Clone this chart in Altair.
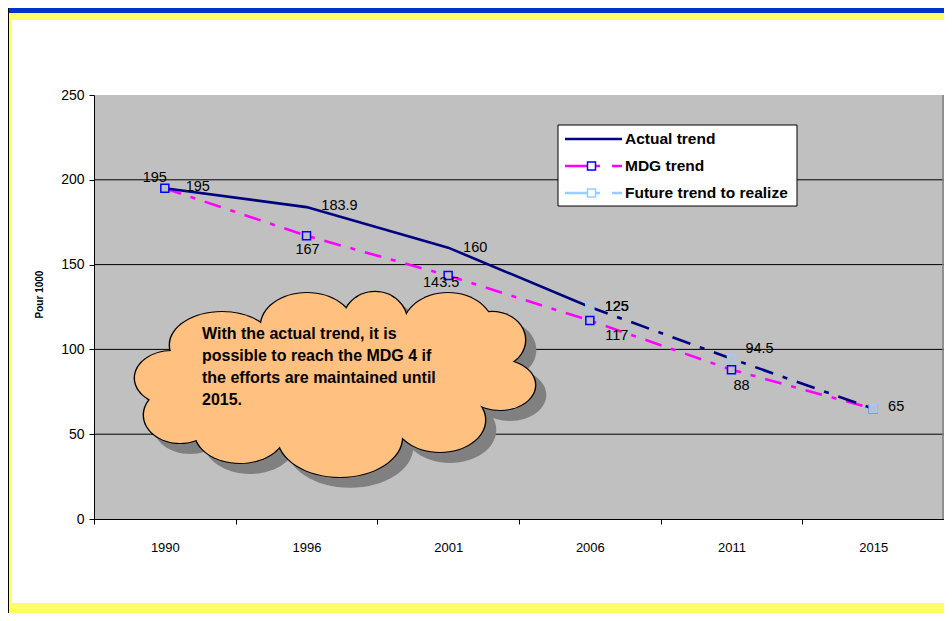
import altair as alt
import pandas as pd

# ---------------- data ----------------
years = ["1990", "1996", "2001", "2006", "2011", "2015"]
actual_years = ["1990", "1996", "2001", "2006"]
actual_values = [195, 183.9, 160, 125]
future_years = ["2006", "2011", "2015"]
future_values = [125, 94.5, 65]
mdg_values = [195, 167, 143.5, 117, 88, 65]
y_ticks = [0, 50, 100, 150, 200, 250]
grid_values = [50, 100, 150, 200]
series_names = ["Actual trend", "MDG trend", "Future trend to realize"]
callout_lines = [
    "With the actual trend, it is",
    "possible to reach the MDG 4 if",
    "the efforts are maintained until",
    "2015.",
]
y_title = "Pour 1000"

# label placement (pixel offsets from the point, layout only)
actual_dx = [33, 33, 27, 27]
actual_dy = [-1, -1, 0, 0]
future_dx = [27, 28, 23]
future_dy = [0, -10, -2]
mdg_label_years = ["1990", "1996", "2001", "2006", "2011"]
mdg_dx = [-10, 1, -7, 27, 10]
mdg_dy = [-10, 14, 7, 15, 16]

# ---------------- style ----------------
FONT = "Liberation Sans"
NAVY = "#000080"
MAGENTA = "#FF00FF"
BLUE = "#0000FF"
LIGHT = "#99CCFF"
PLOT_BG = "#C0C0C0"
CLOUD = "#FFC080"
SHADOW = "#808080"
FRAME_BLUE = "#0033CC"
FRAME_YELLOW = "#FFFF66"
W, H = 850, 424
PAD = {"left": 86, "top": 87, "right": 0, "bottom": 94}

x_scale = alt.Scale(type="band", domain=years, paddingInner=0, paddingOuter=0)
y_scale = alt.Scale(domain=[0, 250], nice=False)
x_axis = alt.Axis(title=None, tickBand="extent", tickSize=5, tickColor="black",
                  domainColor="black", labelAngle=0, labelFontSize=13,
                  labelPadding=17, labelColor="black", grid=False, labelFont=FONT)
y_axis = alt.Axis(title=y_title, values=y_ticks, tickSize=5, tickColor="black",
                  domainColor="black", labelFontSize=14, labelPadding=5,
                  labelColor="black", grid=False, labelFont=FONT,
                  titleFont=FONT, titleFontSize=10, titleFontWeight="bold",
                  titleColor="black", titleAngle=270, titleX=-55, titleY=199,
                  titleAlign="center", titleBaseline="middle")


def xenc():
    return alt.X("year:O", scale=x_scale, axis=x_axis, bandPosition=0.5)


def yenc():
    return alt.Y("value:Q", scale=y_scale, axis=y_axis)


actual_df = pd.DataFrame({"year": actual_years, "value": actual_values})
future_df = pd.DataFrame({"year": future_years, "value": future_values})
mdg_df = pd.DataFrame({"year": years, "value": mdg_values})
grid_df = pd.DataFrame({"value": grid_values})
one = pd.DataFrame({"k": [0]})

layers = []

# gridlines
layers.append(alt.Chart(grid_df).mark_rule(color="black", strokeWidth=1)
              .encode(y=yenc()))
# right border of the plot
layers.append(alt.Chart(one).mark_rule(color="#808080", strokeWidth=1.5)
              .encode(x=alt.value(W - 1), y=alt.value(0), y2=alt.value(H)))

# lines
layers.append(alt.Chart(mdg_df).mark_line(color=MAGENTA, strokeWidth=2.6,
                                          strokeDash=[17, 10, 5, 10])
              .encode(x=xenc(), y=yenc()))
layers.append(alt.Chart(actual_df).mark_line(color=NAVY, strokeWidth=2.6)
              .encode(x=xenc(), y=yenc()))
layers.append(alt.Chart(future_df).mark_line(color=NAVY, strokeWidth=2.6,
                                             strokeDash=[19, 10, 5, 10])
              .encode(x=xenc(), y=yenc()))

# markers
layers.append(alt.Chart(mdg_df).mark_point(shape="square", size=64, filled=True,
                                           fill=PLOT_BG, stroke=BLUE, strokeWidth=1.5,
                                           opacity=1)
              .encode(x=xenc(), y=yenc()))
layers.append(alt.Chart(future_df).mark_point(shape="square", size=64, filled=True,
                                              fill=PLOT_BG, stroke=LIGHT, strokeWidth=1.5,
                                              opacity=1)
              .encode(x=xenc(), y=yenc()))


def label_layers(yrs, vals, dxs, dys):
    out = []
    for yr, v, dx, dy in zip(yrs, vals, dxs, dys):
        df = pd.DataFrame({"year": [yr], "value": [v], "label": [f"{v:g}"]})
        out.append(alt.Chart(df).mark_text(dx=dx, dy=dy, fontSize=14.5, font=FONT,
                                           color="black", baseline="middle")
                   .encode(x=xenc(), y=yenc(), text="label:N"))
    return out


layers += label_layers(actual_years, actual_values, actual_dx, actual_dy)
layers += label_layers(future_years, future_values, future_dx, future_dy)
layers += label_layers(mdg_label_years, mdg_values[:5], mdg_dx, mdg_dy)

# ---------------- cloud callout (decoration, pixel units in the plot) ----------------
# lobes: centre x, centre y, radius x, radius y
lobes = [
    (78, 283, 37, 27), (128, 250, 52, 33), (213, 231, 46, 33), (281, 227, 32, 30),
    (354, 233, 45, 35), (398, 245, 33, 28), (406, 290, 35, 25), (346, 325, 45, 32),
    (246, 342, 62, 40), (146, 337, 45, 31), (86, 320, 36, 28),
]
fillers = [(196, 290, 85, 55), (316, 285, 75, 50), (256, 245, 40, 30), (106, 303, 22, 16)]


def ellipse_path(k):
    return f"M-1,0A1,{k:.3f},0,1,1,1,0A1,{k:.3f},0,1,1,-1,0Z"


def blob_df(items, grow=0.0, shift=0):
    return pd.DataFrame({
        "cx": [c[0] + shift for c in items],
        "cy": [c[1] + shift for c in items],
        "s": [4 * (c[2] + grow) ** 2 for c in items],
        "shape": [ellipse_path(c[3] / c[2]) for c in items],
    })


def blob_layer(df, color):
    return (alt.Chart(df).mark_point(filled=True, color=color, opacity=1, strokeWidth=0)
            .encode(x=alt.X("cx:Q", scale=None, axis=None),
                    y=alt.Y("cy:Q", scale=None, axis=None),
                    size=alt.Size("s:Q", scale=None, legend=None),
                    shape=alt.Shape("shape:N", scale=None, legend=None)))


layers.append(blob_layer(blob_df(lobes + fillers, grow=1.3, shift=10), SHADOW))
layers.append(blob_layer(blob_df(lobes, grow=1.4), "black"))
layers.append(blob_layer(blob_df(lobes + fillers), CLOUD))

layers.append(alt.Chart(one).mark_text(
    align="left", baseline="alphabetic", fontSize=16, fontWeight="bold", font=FONT,
    color="black", lineHeight=22)
    .encode(x=alt.value(108), y=alt.value(244), text=alt.value(callout_lines)))

# ---------------- legend (drawn) ----------------
layers.append(alt.Chart(one).mark_rect(fill="white", stroke="black", strokeWidth=1)
              .encode(x=alt.value(464), x2=alt.value(703), y=alt.value(30), y2=alt.value(111)))
leg_colors = [NAVY, MAGENTA, LIGHT]
leg_marker = [None, BLUE, LIGHT]
for i, name in enumerate(series_names):
    ry = 44 + 27 * i
    if i == 0:
        layers.append(alt.Chart(one).mark_rule(color=leg_colors[i], strokeWidth=2.6)
                      .encode(x=alt.value(471), x2=alt.value(528), y=alt.value(ry)))
    else:
        layers.append(alt.Chart(one).mark_rule(color=leg_colors[i], strokeWidth=2.6,
                                               strokeDash=[35, 12, 10])
                      .encode(x=alt.value(471), x2=alt.value(528), y=alt.value(ry)))
        layers.append(alt.Chart(one).mark_point(shape="square", size=64, filled=True,
                                                fill="white", stroke=leg_marker[i],
                                                strokeWidth=1.5, opacity=1)
                      .encode(x=alt.value(497.5), y=alt.value(ry)))
    layers.append(alt.Chart(one).mark_text(align="left", baseline="middle", fontSize=15.5,
                                           fontWeight="bold", font=FONT, color="black")
                  .encode(x=alt.value(531), y=alt.value(ry), text=alt.value(name)))


# ---------------- page frame (decoration) ----------------
def band(x1, x2, y1, y2, color):
    return (alt.Chart(one).mark_rect(color=color, opacity=1)
            .encode(x=alt.value(x1), x2=alt.value(x2), y=alt.value(y1), y2=alt.value(y2)))


layers.append(band(-86, W, -87, -82, FRAME_BLUE))
layers.append(band(-86, W, -82, -75, FRAME_YELLOW))
layers.append(band(-86, W, 508, 518, FRAME_YELLOW))
layers.append(band(-85, -82, -82, 518, FRAME_YELLOW))
layers.append(band(-86, -85, -87, 518, "black"))

chart = (alt.layer(*layers)
         .properties(width=W, height=H, padding=PAD,
                     autosize=alt.AutoSizeParams(type="none"),
                     background="white")
         .configure_view(fill=PLOT_BG, stroke=None))

chart.save("out.html", embed_options={"renderer": "svg", "actions": False})
